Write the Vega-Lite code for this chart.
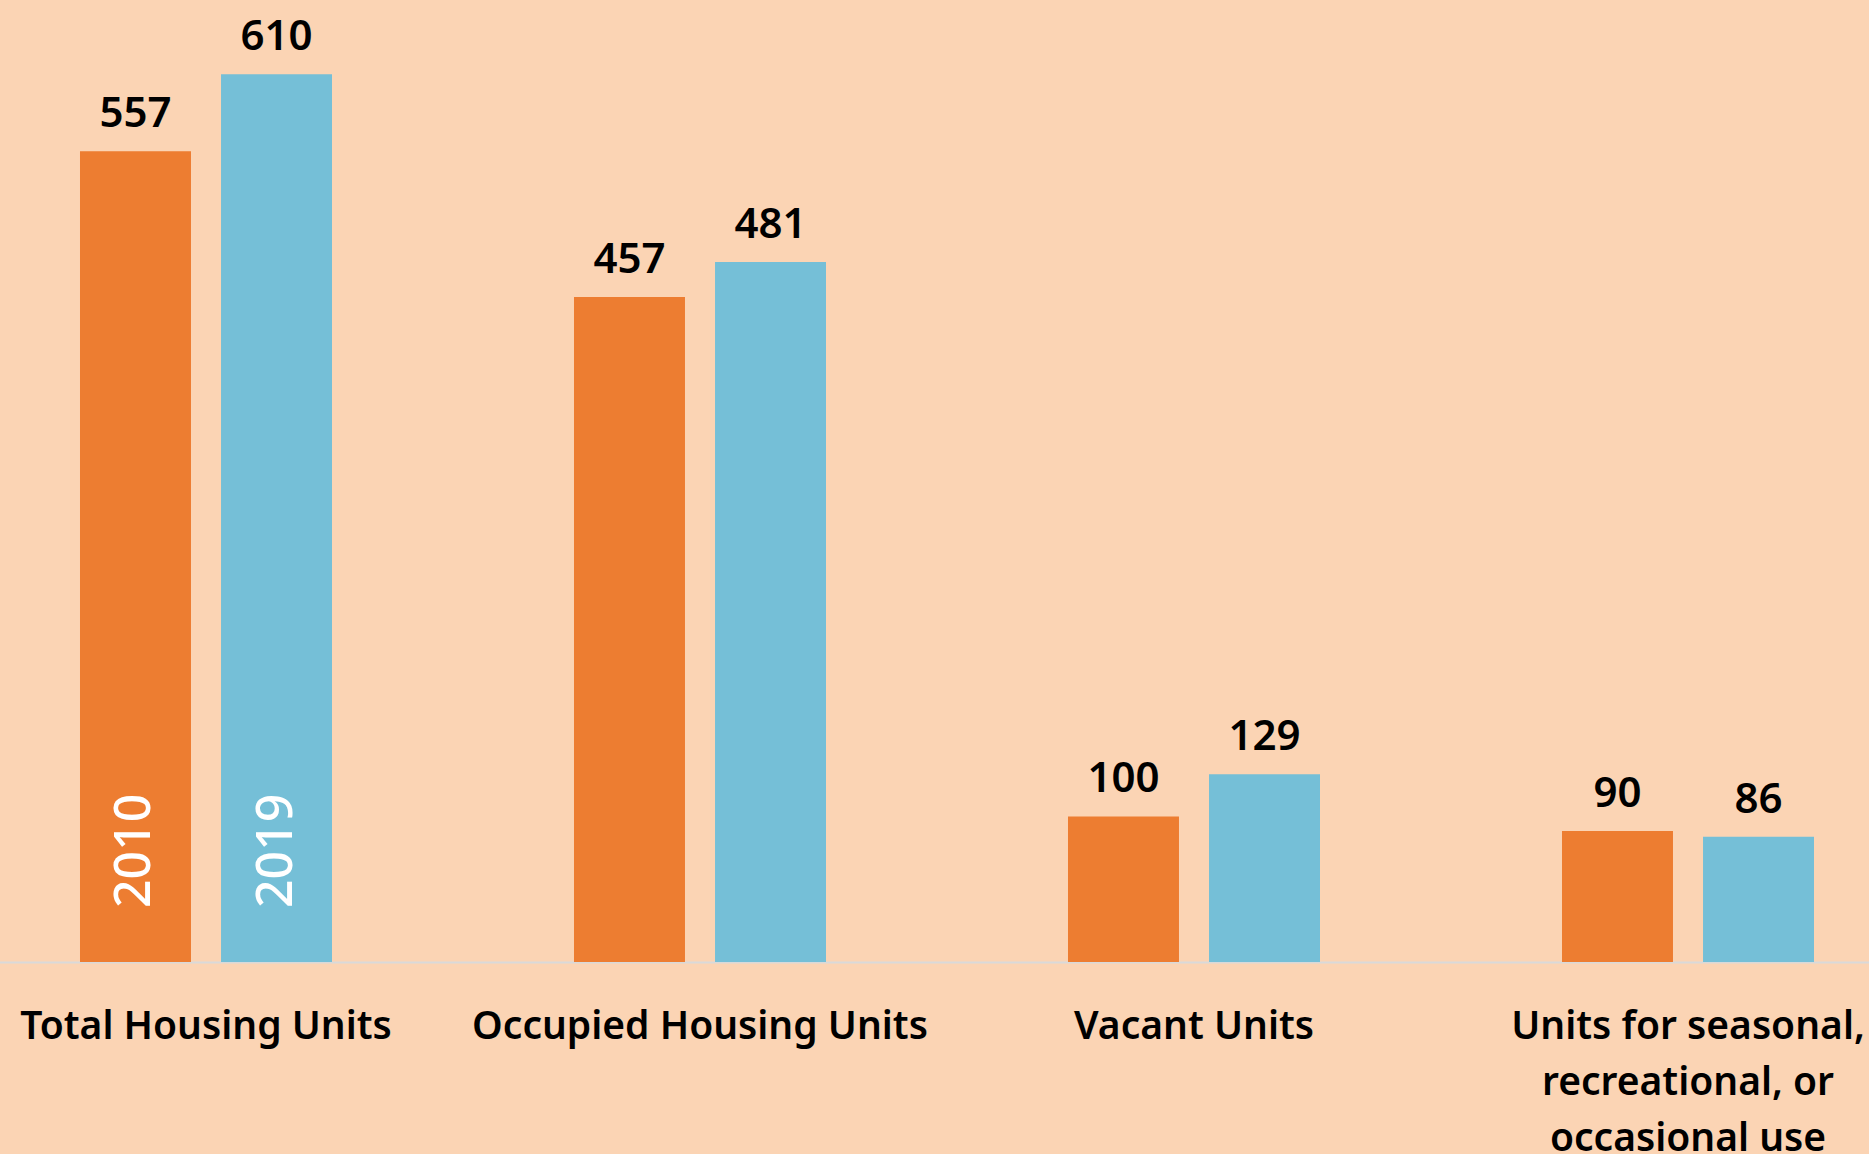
{
  "$schema": "https://vega.github.io/schema/vega-lite/v6.json",
  "autosize": {"type": "none"},
  "width": 1869,
  "height": 962,
  "padding": {"left": 0, "top": 0, "right": 0, "bottom": 192},
  "background": "#FBD4B4",
  "config": {"view": {"stroke": null}, "font": "Noto Sans"},
  "data": {
    "values": [
      {"category": "Total Housing Units", "year": "2010", "value": 557},
      {"category": "Total Housing Units", "year": "2019", "value": 610},
      {"category": "Occupied Housing Units", "year": "2010", "value": 457},
      {"category": "Occupied Housing Units", "year": "2019", "value": 481},
      {"category": "Vacant Units", "year": "2010", "value": 100},
      {"category": "Vacant Units", "year": "2019", "value": 129},
      {"category": "Units for seasonal, recreational, or occasional use", "year": "2010", "value": 90},
      {"category": "Units for seasonal, recreational, or occasional use", "year": "2019", "value": 86}
    ]
  },
  "encoding": {
    "x": {
      "field": "category",
      "type": "nominal",
      "sort": null,
      "scale": {"range": [-41, 1935], "paddingInner": 0, "paddingOuter": 0},
      "axis": {
        "title": null,
        "labelAngle": 0,
        "ticks": false,
        "domainColor": "#D9D9D9",
        "domainWidth": 2,
        "labelFont": "Noto Sans",
        "labelFontSize": 39,
        "labelFontWeight": 600,
        "labelColor": "#000000",
        "labelPadding": 45,
        "labelLineHeight": 56,
        "labelLimit": 0,
        "labelOverlap": false,
        "labelExpr": "datum.value == 'Units for seasonal, recreational, or occasional use' ? ['Units for seasonal,', 'recreational, or', 'occasional use'] : datum.label"
      }
    },
    "xOffset": {
      "field": "year",
      "type": "nominal",
      "scale": {"paddingInner": 0.213, "paddingOuter": 0.858}
    },
    "y": {
      "field": "value",
      "type": "quantitative",
      "scale": {"domain": [0, 661], "nice": false, "zero": true},
      "axis": null
    }
  },
  "layer": [
    {
      "mark": {"type": "bar"},
      "encoding": {
        "color": {
          "field": "year",
          "type": "nominal",
          "scale": {"domain": ["2010", "2019"], "range": ["#ED7D31", "#75BFD7"]},
          "legend": null
        }
      }
    },
    {
      "mark": {"type": "text", "baseline": "alphabetic", "dy": -24, "fontSize": 42, "fontWeight": 600, "color": "#000000"},
      "encoding": {"text": {"field": "value", "type": "quantitative"}}
    },
    {
      "transform": [{"filter": "datum.category == 'Total Housing Units'"}],
      "mark": {"type": "text", "angle": 270, "align": "left", "baseline": "middle", "dx": 54, "fontSize": 50, "fontWeight": 500, "color": "#FFFFFF"},
      "encoding": {
        "y": {"datum": 0, "type": "quantitative"},
        "text": {"field": "year", "type": "nominal"}
      }
    }
  ]
}
